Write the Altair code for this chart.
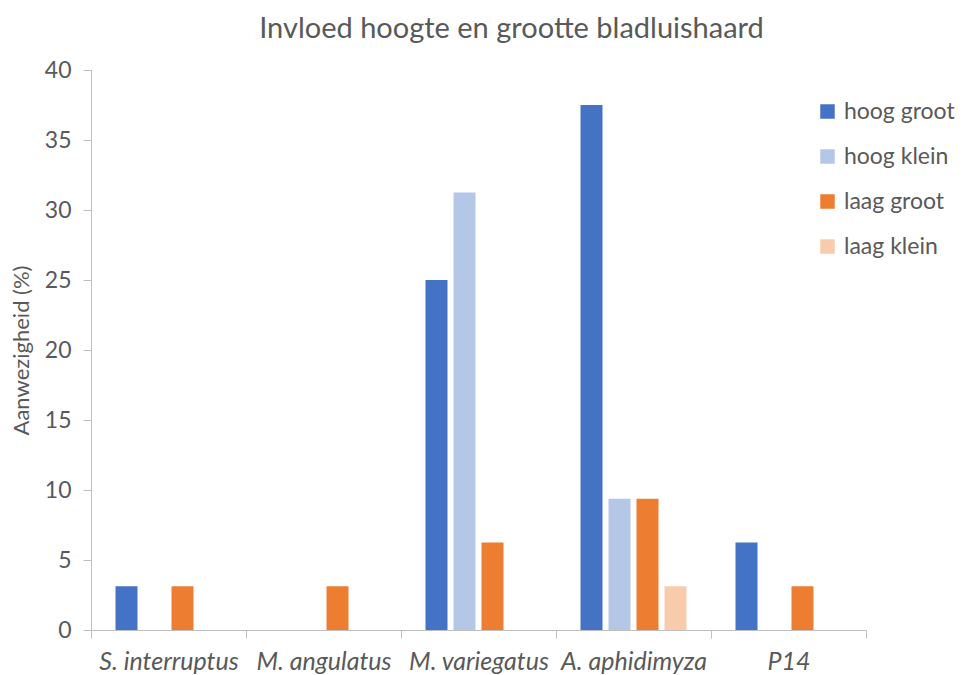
import altair as alt
import pandas as pd

categories = ["S. interruptus", "M. angulatus", "M. variegatus", "A. aphidimyza", "P14"]
series = ["hoog groot", "hoog klein", "laag groot", "laag klein"]
hoog_groot = [3.125, 0, 25.0, 37.5, 6.25]
hoog_klein = [0, 0, 31.25, 9.375, 0]
laag_groot = [3.125, 3.125, 6.25, 9.375, 3.125]
laag_klein = [0, 0, 0, 3.125, 0]
colors = ["#4472C4", "#B4C7E7", "#ED7D31", "#F8CBAD"]
y_ticks = [0, 5, 10, 15, 20, 25, 30, 35, 40]

values = [hoog_groot, hoog_klein, laag_groot, laag_klein]
rows = []
for s, vals in zip(series, values):
    for c, v in zip(categories, vals):
        rows.append({"soort": c, "serie": s, "waarde": v})
df = pd.DataFrame(rows)

FONT = "Lato"
GREY = "#595959"
AXIS = "#BFBFBF"

chart = alt.Chart(df).mark_bar().encode(
    x=alt.X("soort:N", sort=categories,
            scale=alt.Scale(paddingInner=0, paddingOuter=0),
            axis=alt.Axis(title=None, labelAngle=0, tickBand="extent",
                          labelFontStyle="italic", labelFontSize=25,
                          labelColor=GREY, labelFont=FONT, labelPadding=11,
                          tickSize=8, tickColor=AXIS, domainColor=AXIS)),
    xOffset=alt.XOffset("serie:N", sort=series,
                        scale=alt.Scale(paddingInner=0.214, paddingOuter=0.875)),
    y=alt.Y("waarde:Q", scale=alt.Scale(domain=[0, 40], nice=False),
            axis=alt.Axis(title="Aanwezigheid (%)", values=y_ticks, grid=False,
                          labelFontSize=23, labelColor=GREY, labelFont=FONT,
                          labelPadding=12, tickSize=8, tickColor=AXIS,
                          domainColor=AXIS, titleFont=FONT, titleFontSize=22,
                          titleFontWeight="normal", titleColor=GREY,
                          titlePadding=11)),
    color=alt.Color("serie:N", sort=series,
                    scale=alt.Scale(domain=series, range=colors),
                    legend=alt.Legend(title=None, orient="none", legendX=725,
                                      legendY=30, symbolType="square",
                                      symbolSize=210, symbolStrokeWidth=0,
                                      labelFontSize=23, labelColor=GREY,
                                      labelFont=FONT, rowPadding=21,
                                      labelOffset=5)),
).properties(
    width=775,
    height=560,
    title=alt.TitleParams("Invloed hoogte en grootte bladluishaard",
                          font=FONT, fontSize=29, fontWeight="normal",
                          color=GREY, anchor="middle", offset=15, dx=33),
    autosize=alt.AutoSizeParams(type="none"),
    padding={"left": 83, "top": 62, "right": 90, "bottom": 45},
).configure_view(stroke=None)

chart.save("out.html", embed_options={"renderer": "svg", "actions": False})
